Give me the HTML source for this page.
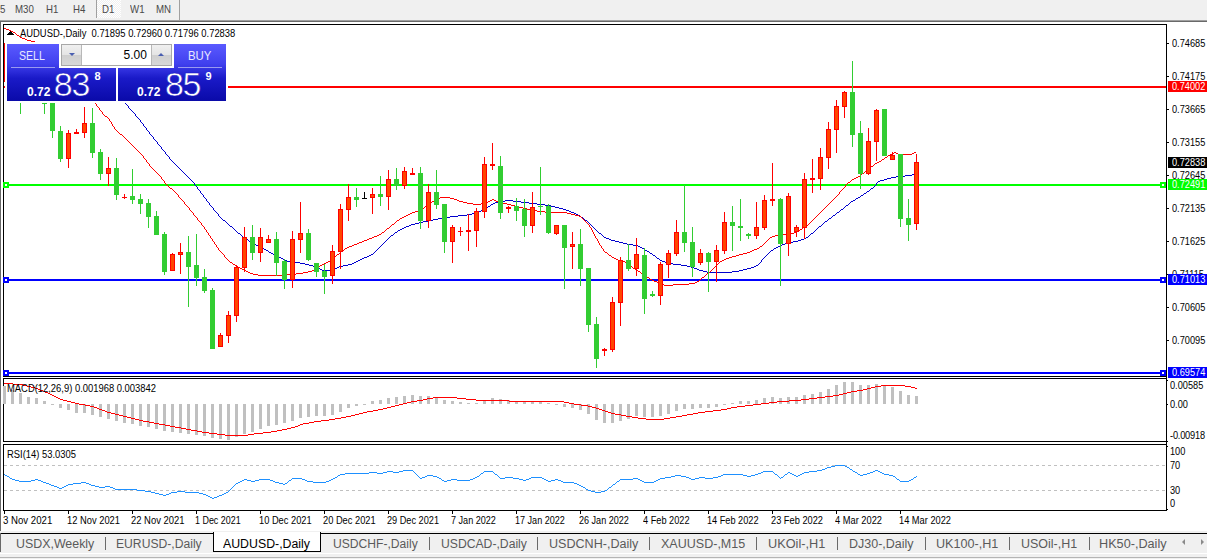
<!DOCTYPE html><html><head><meta charset="utf-8"><title>AUDUSD-,Daily</title><style>
html,body{margin:0;padding:0;background:#fff}
body{width:1207px;height:559px;position:relative;overflow:hidden;font-family:"Liberation Sans",sans-serif}
.a{position:absolute}
.t{position:absolute;white-space:pre;line-height:1;color:#000}
.c{font-size:10px;transform:scaleX(.94);transform-origin:0 0}
.tb{font-size:11px;color:#4a4a4a;top:4px;transform:scaleX(.88);transform-origin:0 0}
.lb{position:absolute;left:1168px;width:39px;height:11px;color:#fff;font-size:10px;line-height:11px}
.lb span{position:absolute;left:4px;top:0.3px;transform:scaleX(.92);transform-origin:0 0}
.ax{position:absolute;left:1172px;font-size:10px;line-height:1;color:#000;white-space:pre;transform:scaleX(.92);transform-origin:0 0}
.tk{position:absolute;left:1167px;width:2px;height:1px;background:#000}
.tab{position:absolute;top:537.8px;font-size:12.3px;line-height:1;color:#5a5a5a;white-space:pre}
.sep{position:absolute;top:537px;width:1px;height:13px;background:#6a6a6a}
.dt{position:absolute;top:515.9px;font-size:10px;line-height:1;white-space:pre;color:#000;transform:scaleX(.985);transform-origin:0 0}
.dtk{position:absolute;top:511px;width:1px;height:3px;background:#000}
</style></head><body>
<div class="a" style="left:0;top:0;width:1207px;height:20px;background:#f0f0f0"></div>
<div class="a" style="left:0;top:20px;width:1207px;height:1px;background:#a0a0a0"></div>
<div class="a" style="left:0;top:21px;width:1207px;height:1px;background:#696969"></div>
<div class="a" style="left:0;top:21px;width:1px;height:511px;background:#696969"></div>
<div class="a" style="left:97px;top:0;width:24px;height:18px;background:conic-gradient(#fff 25%,#f0f0f0 0 50%,#fff 0 75%,#f0f0f0 0) 0 0/2px 2px"></div>
<div class="a" style="left:96px;top:0;width:1px;height:18px;background:#a0a0a0"></div>
<div class="a" style="left:179px;top:0;width:1px;height:20px;background:#a0a0a0"></div>
<div class="t tb" style="left:0px">5</div>
<div class="t tb" style="left:15px">M30</div>
<div class="t tb" style="left:46px">H1</div>
<div class="t tb" style="left:73px">H4</div>
<div class="t tb" style="left:102px">D1</div>
<div class="t tb" style="left:130px">W1</div>
<div class="t tb" style="left:156px">MN</div>
<svg width="1207" height="559" viewBox="0 0 1207 559" shape-rendering="crispEdges" style="position:absolute;left:0;top:0">
<rect x="3" y="24" width="1164" height="1" fill="#000"/><rect x="3" y="376" width="1164" height="1" fill="#000"/><rect x="3" y="24" width="1" height="353" fill="#000"/>
<rect x="3" y="378" width="1164" height="1" fill="#000"/><rect x="3" y="441" width="1164" height="1" fill="#000"/><rect x="3" y="378" width="1" height="64" fill="#000"/>
<rect x="3" y="444" width="1164" height="1" fill="#000"/><rect x="3" y="510" width="1164" height="1" fill="#000"/><rect x="3" y="444" width="1" height="67" fill="#000"/>
<rect x="4" y="86" width="1162" height="2" fill="#FF0000"/>
<rect x="4" y="184" width="1162" height="2" fill="#00FF00"/>
<rect x="3" y="182" width="6" height="6" fill="#00FF00"/><rect x="5" y="184" width="2" height="2" fill="#fff"/>
<rect x="1160" y="182" width="6" height="6" fill="#00FF00"/><rect x="1162" y="184" width="2" height="2" fill="#fff"/>
<rect x="4" y="279" width="1162" height="2" fill="#0000FF"/>
<rect x="3" y="277" width="6" height="6" fill="#0000FF"/><rect x="5" y="279" width="2" height="2" fill="#fff"/>
<rect x="1160" y="277" width="6" height="6" fill="#0000FF"/><rect x="1162" y="279" width="2" height="2" fill="#fff"/>
<rect x="4" y="372" width="1162" height="2" fill="#0000FF"/>
<rect x="3" y="370" width="6" height="6" fill="#0000FF"/><rect x="5" y="372" width="2" height="2" fill="#fff"/>
<rect x="1160" y="370" width="6" height="6" fill="#0000FF"/><rect x="1162" y="372" width="2" height="2" fill="#fff"/>
<path d="M100 75h1v1h-1zM101 76h1v1h-1zM102 77h1v1h-1zM103 78h1v1h-1zM104 79h1v2h-1zM105 81h1v1h-1zM106 82h1v1h-1zM107 83h1v1h-1zM108 84h1v1h-1zM109 85h1v1h-1zM110 86h1v1h-1zM111 87h1v1h-1zM112 88h1v2h-1zM113 90h1v1h-1zM114 91h1v1h-1zM115 92h1v1h-1zM116 93h1v1h-1zM117 94h1v1h-1zM118 95h1v1h-1zM119 96h1v1h-1zM120 97h1v1h-1zM121 98h1v2h-1zM122 100h1v1h-1zM123 101h1v1h-1zM124 102h1v1h-1zM125 103h1v1h-1zM126 104h1v1h-1zM127 105h1v1h-1zM128 106h1v2h-1zM129 108h1v1h-1zM130 109h1v1h-1zM131 110h1v1h-1zM132 111h1v1h-1zM133 112h1v1h-1zM134 113h1v1h-1zM135 114h1v2h-1zM136 116h1v1h-1zM137 117h1v1h-1zM138 118h1v1h-1zM139 119h1v1h-1zM140 120h1v2h-1zM141 122h1v1h-1zM142 123h1v1h-1zM143 124h1v2h-1zM144 126h1v1h-1zM145 127h1v1h-1zM146 128h1v2h-1zM147 130h1v1h-1zM148 131h1v1h-1zM149 132h1v2h-1zM150 134h1v1h-1zM151 135h1v1h-1zM152 136h1v1h-1zM153 137h1v2h-1zM154 139h1v1h-1zM155 140h1v1h-1zM156 141h1v1h-1zM157 142h1v2h-1zM158 144h1v1h-1zM159 145h1v1h-1zM160 146h1v1h-1zM161 147h1v2h-1zM162 149h1v1h-1zM163 150h1v1h-1zM164 151h1v1h-1zM165 152h1v2h-1zM166 154h1v1h-1zM167 155h1v1h-1zM168 156h1v1h-1zM169 157h1v2h-1zM170 159h1v1h-1zM171 160h1v1h-1zM172 161h1v1h-1zM173 162h1v1h-1zM174 163h1v1h-1zM175 164h1v1h-1zM176 165h1v1h-1zM177 166h1v1h-1zM178 167h1v1h-1zM179 168h1v1h-1zM180 169h1v1h-1zM181 170h1v1h-1zM182 171h1v1h-1zM183 172h1v1h-1zM184 173h1v1h-1zM185 174h1v1h-1zM186 175h1v1h-1zM187 176h1v1h-1zM188 177h1v1h-1zM189 178h1v1h-1zM190 179h1v1h-1zM191 180h1v1h-1zM192 181h1v1h-1zM193 182h1v1h-1zM194 183h1v2h-1zM195 185h1v1h-1zM196 186h1v1h-1zM197 187h1v2h-1zM198 189h1v1h-1zM199 190h1v1h-1zM200 191h1v2h-1zM201 193h1v1h-1zM202 194h1v1h-1zM203 195h1v2h-1zM204 197h1v1h-1zM205 198h1v1h-1zM206 199h1v2h-1zM207 201h1v1h-1zM208 202h1v1h-1zM209 203h1v2h-1zM210 205h1v1h-1zM211 206h1v1h-1zM212 207h1v1h-1zM213 208h1v2h-1zM214 210h1v1h-1zM215 211h1v1h-1zM216 212h1v1h-1zM217 213h1v1h-1zM218 214h1v2h-1zM219 216h1v1h-1zM220 217h1v1h-1zM221 218h1v1h-1zM222 219h1v1h-1zM223 220h2v1h-2zM225 221h1v1h-1zM226 222h1v1h-1zM227 223h1v1h-1zM228 224h1v1h-1zM229 225h1v1h-1zM230 226h2v1h-2zM232 227h1v1h-1zM233 228h1v1h-1zM234 229h1v1h-1zM235 230h1v1h-1zM236 231h1v1h-1zM237 232h1v1h-1zM238 233h2v1h-2zM240 234h1v1h-1zM241 235h1v1h-1zM242 236h1v1h-1zM243 237h1v1h-1zM244 238h2v1h-2zM246 239h2v1h-2zM248 240h1v1h-1zM249 241h2v1h-2zM251 242h1v1h-1zM252 243h2v1h-2zM254 244h2v1h-2zM256 245h2v1h-2zM258 246h2v1h-2zM260 247h2v1h-2zM262 248h2v1h-2zM264 249h2v1h-2zM266 250h2v1h-2zM268 251h1v1h-1zM269 252h2v1h-2zM271 253h2v1h-2zM273 254h2v1h-2zM275 255h2v1h-2zM277 256h2v1h-2zM279 257h2v1h-2zM281 258h2v1h-2zM283 259h2v1h-2zM285 260h2v1h-2zM287 261h5v1h-5zM292 262h8v1h-8zM300 263h5v1h-5zM305 264h4v1h-4zM309 265h4v1h-4zM313 266h3v1h-3zM316 267h2v1h-2zM318 268h2v1h-2zM320 269h2v1h-2zM322 270h10v1h-10zM332 269h2v1h-2zM334 268h3v1h-3zM337 267h2v1h-2zM339 266h4v1h-4zM343 265h5v1h-5zM348 264h4v1h-4zM352 263h2v1h-2zM354 262h2v1h-2zM356 261h2v1h-2zM358 260h2v1h-2zM360 259h2v1h-2zM362 258h2v1h-2zM364 257h3v1h-3zM367 256h2v1h-2zM369 255h2v1h-2zM371 254h2v1h-2zM373 253h1v1h-1zM374 252h1v1h-1zM375 251h1v1h-1zM376 250h1v1h-1zM377 249h1v1h-1zM378 248h1v1h-1zM379 247h1v1h-1zM380 246h1v1h-1zM381 245h1v1h-1zM382 244h1v1h-1zM383 243h1v1h-1zM384 242h1v1h-1zM385 241h1v1h-1zM386 240h1v1h-1zM387 239h1v1h-1zM388 238h1v1h-1zM389 237h1v1h-1zM390 236h1v1h-1zM391 235h2v1h-2zM393 234h1v1h-1zM394 233h1v1h-1zM395 232h2v1h-2zM397 231h1v1h-1zM398 230h2v1h-2zM400 229h2v1h-2zM402 228h2v1h-2zM404 227h2v1h-2zM406 226h3v1h-3zM409 225h2v1h-2zM411 224h4v1h-4zM415 223h4v1h-4zM419 222h4v1h-4zM423 221h5v1h-5zM428 220h5v1h-5zM433 219h5v1h-5zM438 218h6v1h-6zM444 217h6v1h-6zM450 216h8v1h-8zM458 215h9v1h-9zM467 214h5v1h-5zM472 213h3v1h-3zM475 212h3v1h-3zM478 211h3v1h-3zM481 210h2v1h-2zM483 209h2v1h-2zM485 208h2v1h-2zM487 207h1v1h-1zM488 206h2v1h-2zM490 205h1v1h-1zM491 204h2v1h-2zM493 203h2v1h-2zM495 202h3v1h-3zM498 201h7v1h-7zM505 200h8v1h-8zM513 201h8v1h-8zM521 202h8v1h-8zM529 203h8v1h-8zM537 204h8v1h-8zM545 205h6v1h-6zM551 206h4v1h-4zM555 207h4v1h-4zM559 208h4v1h-4zM563 209h3v1h-3zM566 210h3v1h-3zM569 211h2v1h-2zM571 212h3v1h-3zM574 213h2v1h-2zM576 214h2v1h-2zM578 215h2v1h-2zM580 216h1v1h-1zM581 217h2v1h-2zM583 218h1v1h-1zM584 219h1v1h-1zM585 220h2v1h-2zM587 221h1v1h-1zM588 222h1v1h-1zM589 223h1v1h-1zM590 224h1v1h-1zM591 225h1v1h-1zM592 226h1v1h-1zM593 227h1v1h-1zM594 228h1v1h-1zM595 229h1v1h-1zM596 230h1v1h-1zM597 231h1v1h-1zM598 232h1v1h-1zM599 233h2v1h-2zM601 234h1v1h-1zM602 235h1v1h-1zM603 236h1v1h-1zM604 237h2v1h-2zM606 238h3v1h-3zM609 239h2v1h-2zM611 240h4v1h-4zM615 241h4v1h-4zM619 242h4v1h-4zM623 243h4v1h-4zM627 244h6v1h-6zM633 245h5v1h-5zM638 246h2v1h-2zM640 247h2v1h-2zM642 248h2v1h-2zM644 249h1v1h-1zM645 250h2v1h-2zM647 251h2v1h-2zM649 252h1v1h-1zM650 253h2v1h-2zM652 254h1v1h-1zM653 255h2v1h-2zM655 256h1v1h-1zM656 257h1v1h-1zM657 258h2v1h-2zM659 259h1v1h-1zM660 260h2v1h-2zM662 261h3v1h-3zM665 262h2v1h-2zM667 263h6v1h-6zM673 264h8v1h-8zM681 265h6v1h-6zM687 266h4v1h-4zM691 267h3v1h-3zM694 268h3v1h-3zM697 269h2v1h-2zM699 270h4v1h-4zM703 271h4v1h-4zM707 272h25v1h-25zM732 271h7v1h-7zM739 270h4v1h-4zM743 269h4v1h-4zM747 268h4v1h-4zM751 267h3v1h-3zM754 266h2v1h-2zM756 265h2v1h-2zM758 264h1v1h-1zM759 263h1v1h-1zM760 262h1v1h-1zM761 260h1v2h-1zM762 259h1v1h-1zM763 258h1v1h-1zM764 257h1v1h-1zM765 256h1v1h-1zM766 255h1v1h-1zM767 254h1v1h-1zM768 253h1v1h-1zM769 252h1v1h-1zM770 251h1v1h-1zM771 250h2v1h-2zM773 249h1v1h-1zM774 248h2v1h-2zM776 247h2v1h-2zM778 246h2v1h-2zM780 245h2v1h-2zM782 244h3v1h-3zM785 243h2v1h-2zM787 242h6v1h-6zM793 241h5v1h-5zM798 240h3v1h-3zM801 239h3v1h-3zM804 238h2v1h-2zM806 237h2v1h-2zM808 236h1v1h-1zM809 235h1v1h-1zM810 234h1v1h-1zM811 233h2v1h-2zM813 232h1v1h-1zM814 231h1v1h-1zM815 230h1v1h-1zM816 229h1v1h-1zM817 228h1v1h-1zM818 227h1v1h-1zM819 226h2v1h-2zM821 225h1v1h-1zM822 224h1v1h-1zM823 223h1v1h-1zM824 222h1v1h-1zM825 221h2v1h-2zM827 220h1v1h-1zM828 219h1v1h-1zM829 218h2v1h-2zM831 217h1v1h-1zM832 216h1v1h-1zM833 215h2v1h-2zM835 214h1v1h-1zM836 213h1v1h-1zM837 212h2v1h-2zM839 211h1v1h-1zM840 210h1v1h-1zM841 209h2v1h-2zM843 208h1v1h-1zM844 207h1v1h-1zM845 206h1v1h-1zM846 205h2v1h-2zM848 204h1v1h-1zM849 203h1v1h-1zM850 202h1v1h-1zM851 201h2v1h-2zM853 200h2v1h-2zM855 199h1v1h-1zM856 198h2v1h-2zM858 197h2v1h-2zM860 196h1v1h-1zM861 195h2v1h-2zM863 194h1v1h-1zM864 193h2v1h-2zM866 192h1v1h-1zM867 191h2v1h-2zM869 190h1v1h-1zM870 189h1v1h-1zM871 188h2v1h-2zM873 187h1v1h-1zM874 186h1v1h-1zM875 185h1v1h-1zM876 183h1v2h-1zM877 182h1v1h-1zM878 181h2v1h-2zM880 180h4v1h-4zM884 179h3v1h-3zM887 178h4v1h-4zM891 177h5v1h-5zM896 176h9v1h-9zM905 175h7v1h-7zM912 174h2v1h-2zM914 173h1v1h-1z" fill="#0000CD"/>
<path d="M4 28h2v1h-2zM6 29h3v1h-3zM9 30h2v1h-2zM11 31h2v1h-2zM13 32h2v1h-2zM15 33h1v1h-1zM16 34h1v1h-1zM17 35h2v1h-2zM19 36h1v1h-1zM20 37h2v1h-2zM22 38h3v1h-3zM25 39h2v1h-2zM27 40h4v1h-4zM31 41h4v1h-4zM60 60h1v1h-1zM61 61h1v1h-1zM62 62h1v2h-1zM63 64h1v1h-1zM64 65h1v1h-1zM65 66h1v1h-1zM66 67h1v1h-1zM67 68h1v2h-1zM68 70h1v1h-1zM69 71h1v1h-1zM70 72h1v1h-1zM71 73h1v2h-1zM72 75h1v1h-1zM73 76h1v1h-1zM74 77h1v1h-1zM75 78h1v2h-1zM76 80h1v1h-1zM77 81h1v1h-1zM78 82h1v1h-1zM79 83h1v1h-1zM80 84h1v2h-1zM81 86h1v1h-1zM82 87h1v1h-1zM83 88h1v1h-1zM84 89h1v2h-1zM85 91h1v1h-1zM86 92h1v1h-1zM87 93h1v1h-1zM88 94h1v2h-1zM89 96h1v1h-1zM90 97h1v1h-1zM91 98h1v1h-1zM92 99h1v1h-1zM93 100h1v2h-1zM94 102h1v1h-1zM95 103h1v1h-1zM96 104h1v2h-1zM97 106h1v1h-1zM98 107h1v1h-1zM99 108h1v2h-1zM100 110h1v1h-1zM101 111h1v1h-1zM102 112h1v2h-1zM103 114h1v1h-1zM104 115h1v1h-1zM105 116h2v1h-2zM107 117h1v1h-1zM108 118h1v1h-1zM109 119h1v2h-1zM110 121h1v1h-1zM111 122h1v2h-1zM112 124h1v2h-1zM113 126h1v1h-1zM114 127h1v2h-1zM115 129h1v1h-1zM116 130h1v1h-1zM117 131h1v1h-1zM118 132h1v1h-1zM119 133h1v1h-1zM120 134h2v1h-2zM122 135h1v1h-1zM123 136h1v1h-1zM124 137h1v1h-1zM125 138h1v1h-1zM126 139h1v1h-1zM127 140h1v1h-1zM128 141h1v1h-1zM129 142h1v1h-1zM130 143h1v1h-1zM131 144h1v1h-1zM132 145h1v1h-1zM133 146h1v1h-1zM134 147h1v1h-1zM135 148h1v1h-1zM136 149h1v1h-1zM137 150h1v1h-1zM138 151h1v1h-1zM139 152h1v1h-1zM140 153h1v1h-1zM141 154h1v1h-1zM142 155h1v1h-1zM143 156h1v2h-1zM144 158h1v1h-1zM145 159h1v1h-1zM146 160h1v2h-1zM147 162h1v1h-1zM148 163h1v1h-1zM149 164h1v2h-1zM150 166h1v1h-1zM151 167h1v1h-1zM152 168h1v1h-1zM153 169h1v1h-1zM154 170h1v1h-1zM155 171h1v1h-1zM156 172h1v1h-1zM157 173h1v1h-1zM158 174h1v1h-1zM159 175h1v1h-1zM160 176h1v1h-1zM161 177h1v2h-1zM162 179h1v1h-1zM163 180h1v1h-1zM164 181h1v2h-1zM165 183h1v1h-1zM166 184h1v1h-1zM167 185h1v1h-1zM168 186h1v1h-1zM169 187h1v1h-1zM170 188h2v1h-2zM172 189h1v1h-1zM173 190h1v1h-1zM174 191h1v1h-1zM175 192h1v1h-1zM176 193h1v1h-1zM177 194h1v1h-1zM178 195h1v2h-1zM179 197h1v1h-1zM180 198h1v1h-1zM181 199h1v1h-1zM182 200h1v1h-1zM183 201h1v1h-1zM184 202h1v2h-1zM185 204h1v1h-1zM186 205h1v1h-1zM187 206h1v1h-1zM188 207h1v1h-1zM189 208h1v2h-1zM190 210h1v1h-1zM191 211h1v1h-1zM192 212h1v1h-1zM193 213h1v2h-1zM194 215h1v1h-1zM195 216h1v1h-1zM196 217h1v1h-1zM197 218h1v2h-1zM198 220h1v1h-1zM199 221h1v1h-1zM200 222h1v1h-1zM201 223h1v2h-1zM202 225h1v1h-1zM203 226h1v1h-1zM204 227h1v2h-1zM205 229h1v1h-1zM206 230h1v2h-1zM207 232h1v1h-1zM208 233h1v2h-1zM209 235h1v1h-1zM210 236h1v2h-1zM211 238h1v1h-1zM212 239h1v2h-1zM213 241h1v1h-1zM214 242h1v2h-1zM215 244h1v1h-1zM216 245h1v2h-1zM217 247h1v1h-1zM218 248h1v2h-1zM219 250h1v1h-1zM220 251h1v1h-1zM221 252h1v1h-1zM222 253h1v1h-1zM223 254h1v1h-1zM224 255h1v2h-1zM225 257h1v1h-1zM226 258h1v1h-1zM227 259h1v1h-1zM228 260h1v1h-1zM229 261h1v1h-1zM230 262h2v1h-2zM232 263h1v1h-1zM233 264h2v1h-2zM235 265h1v1h-1zM236 266h2v1h-2zM238 267h2v1h-2zM240 268h2v1h-2zM242 269h2v1h-2zM244 270h2v1h-2zM246 271h2v1h-2zM248 272h2v1h-2zM250 273h3v1h-3zM253 274h5v1h-5zM258 275h28v1h-28zM286 274h10v1h-10zM296 273h7v1h-7zM303 272h5v1h-5zM308 271h4v1h-4zM312 270h3v1h-3zM315 269h1v1h-1zM316 268h2v1h-2zM318 267h1v1h-1zM319 266h1v1h-1zM320 265h2v1h-2zM322 264h2v1h-2zM324 263h2v1h-2zM326 262h2v1h-2zM328 261h2v1h-2zM330 260h1v1h-1zM331 259h1v1h-1zM332 258h2v1h-2zM334 257h1v1h-1zM335 256h1v1h-1zM336 255h1v1h-1zM337 254h2v1h-2zM339 253h1v1h-1zM340 252h1v1h-1zM341 251h1v1h-1zM342 250h2v1h-2zM344 249h1v1h-1zM345 248h2v1h-2zM347 247h2v1h-2zM349 246h3v1h-3zM352 245h2v1h-2zM354 244h3v1h-3zM357 243h2v1h-2zM359 242h3v1h-3zM362 241h2v1h-2zM364 240h3v1h-3zM367 239h2v1h-2zM369 238h3v1h-3zM372 237h2v1h-2zM374 236h3v1h-3zM377 235h2v1h-2zM379 234h2v1h-2zM381 233h1v1h-1zM382 232h2v1h-2zM384 231h1v1h-1zM385 230h1v1h-1zM386 229h1v1h-1zM387 228h2v1h-2zM389 227h1v1h-1zM390 226h1v1h-1zM391 225h1v1h-1zM392 224h2v1h-2zM394 223h1v1h-1zM395 222h1v1h-1zM396 221h1v1h-1zM397 220h2v1h-2zM399 219h1v1h-1zM400 218h2v1h-2zM402 217h2v1h-2zM404 216h2v1h-2zM406 215h2v1h-2zM408 214h2v1h-2zM410 213h2v1h-2zM412 212h3v1h-3zM415 211h4v1h-4zM419 210h2v1h-2zM421 209h1v1h-1zM422 208h2v1h-2zM424 207h1v1h-1zM425 206h1v1h-1zM426 205h1v1h-1zM427 204h2v1h-2zM429 203h1v1h-1zM430 202h2v1h-2zM432 201h2v1h-2zM434 200h2v1h-2zM436 199h2v1h-2zM438 198h2v1h-2zM440 197h10v1h-10zM450 198h4v1h-4zM454 199h3v1h-3zM457 200h2v1h-2zM459 201h4v1h-4zM463 202h4v1h-4zM467 203h6v1h-6zM473 204h8v1h-8zM481 203h5v1h-5zM486 202h2v1h-2zM488 201h2v1h-2zM490 200h2v1h-2zM492 199h2v1h-2zM494 200h2v1h-2zM496 201h3v1h-3zM499 202h4v1h-4zM503 203h4v1h-4zM507 204h4v1h-4zM511 205h4v1h-4zM515 206h4v1h-4zM519 207h4v1h-4zM523 208h4v1h-4zM527 209h4v1h-4zM531 210h6v1h-6zM537 211h8v1h-8zM545 212h22v1h-22zM567 213h4v1h-4zM571 214h4v1h-4zM575 215h4v1h-4zM579 216h2v1h-2zM581 217h1v1h-1zM582 218h1v1h-1zM583 219h1v1h-1zM584 220h1v1h-1zM585 221h1v1h-1zM586 222h1v1h-1zM587 223h1v1h-1zM588 224h1v1h-1zM589 225h1v2h-1zM590 227h1v1h-1zM591 228h1v2h-1zM592 230h1v2h-1zM593 232h1v2h-1zM594 234h1v2h-1zM595 236h1v2h-1zM596 238h1v1h-1zM597 239h1v2h-1zM598 241h1v2h-1zM599 243h1v2h-1zM600 245h1v1h-1zM601 246h1v2h-1zM602 248h1v1h-1zM603 249h1v2h-1zM604 251h1v1h-1zM605 252h2v1h-2zM607 253h1v1h-1zM608 254h1v1h-1zM609 255h2v1h-2zM611 256h1v1h-1zM612 257h2v1h-2zM614 258h2v1h-2zM616 259h2v1h-2zM618 260h4v1h-4zM622 261h3v1h-3zM625 262h2v1h-2zM627 263h1v1h-1zM628 264h1v1h-1zM629 265h2v1h-2zM631 266h1v1h-1zM632 267h1v1h-1zM633 268h2v1h-2zM635 269h2v1h-2zM637 270h1v1h-1zM638 271h2v1h-2zM640 272h1v1h-1zM641 273h2v1h-2zM643 274h1v1h-1zM644 275h2v1h-2zM646 276h1v1h-1zM647 277h2v1h-2zM649 278h1v1h-1zM650 279h2v1h-2zM652 280h2v1h-2zM654 281h3v1h-3zM657 282h3v1h-3zM660 283h2v1h-2zM662 284h2v1h-2zM664 285h9v1h-9zM673 284h16v1h-16zM689 283h6v1h-6zM695 282h2v1h-2zM697 281h2v1h-2zM699 280h1v1h-1zM700 279h1v1h-1zM701 278h1v1h-1zM702 277h2v1h-2zM704 276h1v1h-1zM705 275h1v1h-1zM706 274h1v1h-1zM707 273h1v1h-1zM708 272h2v1h-2zM710 271h1v1h-1zM711 270h1v1h-1zM712 269h1v1h-1zM713 268h1v1h-1zM714 267h1v1h-1zM715 266h1v1h-1zM716 265h1v1h-1zM717 264h1v1h-1zM718 263h1v1h-1zM719 262h1v1h-1zM720 261h2v1h-2zM722 260h2v1h-2zM724 259h2v1h-2zM726 258h3v1h-3zM729 257h3v1h-3zM732 256h4v1h-4zM736 255h3v1h-3zM739 254h4v1h-4zM743 253h4v1h-4zM747 252h3v1h-3zM750 251h2v1h-2zM752 250h2v1h-2zM754 249h3v1h-3zM757 248h2v1h-2zM759 247h1v1h-1zM760 246h2v1h-2zM762 245h1v1h-1zM763 244h1v1h-1zM764 243h1v1h-1zM765 242h1v1h-1zM766 241h1v1h-1zM767 240h1v1h-1zM768 239h1v1h-1zM769 238h1v1h-1zM770 237h2v1h-2zM772 236h3v1h-3zM775 235h6v1h-6zM781 234h8v1h-8zM789 233h5v1h-5zM794 232h2v1h-2zM796 231h2v1h-2zM798 230h2v1h-2zM800 229h2v1h-2zM802 228h1v1h-1zM803 227h2v1h-2zM805 226h1v1h-1zM806 225h2v1h-2zM808 224h1v1h-1zM809 223h1v1h-1zM810 222h1v1h-1zM811 221h1v1h-1zM812 220h1v1h-1zM813 219h1v1h-1zM814 218h1v1h-1zM815 217h1v1h-1zM816 216h1v1h-1zM817 215h1v1h-1zM818 214h1v1h-1zM819 213h1v1h-1zM820 212h1v1h-1zM821 211h1v1h-1zM822 210h1v1h-1zM823 209h1v1h-1zM824 208h1v1h-1zM825 207h1v1h-1zM826 206h1v1h-1zM827 205h1v1h-1zM828 204h1v1h-1zM829 203h1v1h-1zM830 202h1v1h-1zM831 201h1v1h-1zM832 200h1v1h-1zM833 199h1v1h-1zM834 198h1v1h-1zM835 197h1v1h-1zM836 196h1v1h-1zM837 195h1v1h-1zM838 194h1v1h-1zM839 192h1v2h-1zM840 191h1v1h-1zM841 190h1v1h-1zM842 189h1v1h-1zM843 188h1v1h-1zM844 187h1v1h-1zM845 185h1v2h-1zM846 184h1v1h-1zM847 183h1v1h-1zM848 182h2v1h-2zM850 181h1v1h-1zM851 180h1v1h-1zM852 179h2v1h-2zM854 178h2v1h-2zM856 177h2v1h-2zM858 176h2v1h-2zM860 175h1v1h-1zM861 174h1v1h-1zM862 173h2v1h-2zM864 172h1v1h-1zM865 171h1v1h-1zM866 170h1v1h-1zM867 169h2v1h-2zM869 168h1v1h-1zM870 167h1v1h-1zM871 166h2v1h-2zM873 165h1v1h-1zM874 164h1v1h-1zM875 163h2v1h-2zM877 162h2v1h-2zM879 161h2v1h-2zM881 160h1v1h-1zM882 159h2v1h-2zM884 158h1v1h-1zM885 157h2v1h-2zM887 156h1v1h-1zM888 155h2v1h-2zM890 154h2v1h-2zM892 153h2v1h-2zM894 152h2v1h-2zM896 153h2v1h-2zM898 154h14v1h-14zM912 153h2v1h-2zM914 152h2v1h-2z" fill="#FF0000"/>
<rect x="4" y="43" width="1" height="39" fill="#FF0000"/>
<rect x="20" y="90" width="1" height="24" fill="#32CD32"/>
<rect x="18" y="90" width="5" height="10" fill="#32CD32"/>
<rect x="44" y="90" width="1" height="24" fill="#32CD32"/>
<rect x="42" y="90" width="5" height="14" fill="#32CD32"/>
<rect x="52" y="90" width="1" height="48" fill="#32CD32"/>
<rect x="50" y="90" width="5" height="41" fill="#32CD32"/>
<rect x="60" y="126" width="1" height="36" fill="#32CD32"/>
<rect x="58" y="131" width="5" height="28" fill="#32CD32"/>
<rect x="68" y="130" width="1" height="38" fill="#FF0000"/>
<rect x="66" y="133" width="5" height="26" fill="#FF0000"/><rect x="67" y="134" width="3" height="24" fill="#FF4500"/>
<rect x="76" y="129" width="1" height="5" fill="#FF0000"/>
<rect x="74" y="132" width="5" height="2" fill="#FF0000"/>
<rect x="84" y="107" width="1" height="31" fill="#FF0000"/>
<rect x="82" y="123" width="5" height="10" fill="#FF0000"/><rect x="83" y="124" width="3" height="8" fill="#FF4500"/>
<rect x="92" y="108" width="1" height="50" fill="#32CD32"/>
<rect x="90" y="123" width="5" height="30" fill="#32CD32"/>
<rect x="100" y="149" width="1" height="31" fill="#32CD32"/>
<rect x="98" y="152" width="5" height="22" fill="#32CD32"/>
<rect x="108" y="157" width="1" height="29" fill="#FF0000"/>
<rect x="106" y="168" width="5" height="6" fill="#FF0000"/><rect x="107" y="169" width="3" height="4" fill="#FF4500"/>
<rect x="116" y="158" width="1" height="42" fill="#32CD32"/>
<rect x="114" y="168" width="5" height="27" fill="#32CD32"/>
<rect x="124" y="194" width="1" height="5" fill="#FF0000"/>
<rect x="122" y="197" width="5" height="1" fill="#FF0000"/>
<rect x="132" y="169" width="1" height="35" fill="#32CD32"/>
<rect x="130" y="196" width="5" height="4" fill="#32CD32"/>
<rect x="140" y="194" width="1" height="20" fill="#32CD32"/>
<rect x="138" y="199" width="5" height="5" fill="#32CD32"/>
<rect x="148" y="199" width="1" height="29" fill="#32CD32"/>
<rect x="146" y="203" width="5" height="14" fill="#32CD32"/>
<rect x="156" y="211" width="1" height="24" fill="#32CD32"/>
<rect x="154" y="216" width="5" height="19" fill="#32CD32"/>
<rect x="164" y="232" width="1" height="43" fill="#32CD32"/>
<rect x="162" y="234" width="5" height="38" fill="#32CD32"/>
<rect x="172" y="253" width="1" height="18" fill="#FF0000"/>
<rect x="170" y="254" width="5" height="17" fill="#FF0000"/><rect x="171" y="255" width="3" height="15" fill="#FF4500"/>
<rect x="180" y="243" width="1" height="31" fill="#FF0000"/>
<rect x="178" y="252" width="5" height="3" fill="#FF0000"/><rect x="179" y="253" width="3" height="1" fill="#FF4500"/>
<rect x="188" y="236" width="1" height="71" fill="#32CD32"/>
<rect x="186" y="252" width="5" height="15" fill="#32CD32"/>
<rect x="196" y="234" width="1" height="52" fill="#32CD32"/>
<rect x="194" y="265" width="5" height="13" fill="#32CD32"/>
<rect x="204" y="269" width="1" height="24" fill="#32CD32"/>
<rect x="202" y="277" width="5" height="14" fill="#32CD32"/>
<rect x="212" y="288" width="1" height="61" fill="#32CD32"/>
<rect x="210" y="290" width="5" height="59" fill="#32CD32"/>
<rect x="220" y="333" width="1" height="14" fill="#FF0000"/>
<rect x="218" y="335" width="5" height="12" fill="#FF0000"/><rect x="219" y="336" width="3" height="10" fill="#FF4500"/>
<rect x="228" y="311" width="1" height="32" fill="#FF0000"/>
<rect x="226" y="315" width="5" height="21" fill="#FF0000"/><rect x="227" y="316" width="3" height="19" fill="#FF4500"/>
<rect x="236" y="265" width="1" height="57" fill="#FF0000"/>
<rect x="234" y="267" width="5" height="49" fill="#FF0000"/><rect x="235" y="268" width="3" height="47" fill="#FF4500"/>
<rect x="244" y="227" width="1" height="45" fill="#FF0000"/>
<rect x="242" y="237" width="5" height="31" fill="#FF0000"/><rect x="243" y="238" width="3" height="29" fill="#FF4500"/>
<rect x="252" y="225" width="1" height="35" fill="#32CD32"/>
<rect x="250" y="237" width="5" height="16" fill="#32CD32"/>
<rect x="260" y="228" width="1" height="34" fill="#FF0000"/>
<rect x="258" y="237" width="5" height="16" fill="#FF0000"/><rect x="259" y="238" width="3" height="14" fill="#FF4500"/>
<rect x="268" y="235" width="1" height="8" fill="#FF0000"/>
<rect x="266" y="239" width="5" height="4" fill="#FF0000"/><rect x="267" y="240" width="3" height="2" fill="#FF4500"/>
<rect x="276" y="232" width="1" height="44" fill="#32CD32"/>
<rect x="274" y="239" width="5" height="24" fill="#32CD32"/>
<rect x="284" y="259" width="1" height="30" fill="#32CD32"/>
<rect x="282" y="261" width="5" height="19" fill="#32CD32"/>
<rect x="292" y="231" width="1" height="57" fill="#FF0000"/>
<rect x="290" y="239" width="5" height="41" fill="#FF0000"/><rect x="291" y="240" width="3" height="39" fill="#FF4500"/>
<rect x="300" y="202" width="1" height="51" fill="#FF0000"/>
<rect x="298" y="233" width="5" height="7" fill="#FF0000"/><rect x="299" y="234" width="3" height="5" fill="#FF4500"/>
<rect x="308" y="229" width="1" height="32" fill="#32CD32"/>
<rect x="306" y="233" width="5" height="27" fill="#32CD32"/>
<rect x="316" y="263" width="1" height="14" fill="#32CD32"/>
<rect x="314" y="263" width="5" height="9" fill="#32CD32"/>
<rect x="324" y="264" width="1" height="30" fill="#32CD32"/>
<rect x="322" y="271" width="5" height="6" fill="#32CD32"/>
<rect x="332" y="245" width="1" height="39" fill="#FF0000"/>
<rect x="330" y="251" width="5" height="25" fill="#FF0000"/><rect x="331" y="252" width="3" height="23" fill="#FF4500"/>
<rect x="340" y="204" width="1" height="65" fill="#FF0000"/>
<rect x="338" y="209" width="5" height="43" fill="#FF0000"/><rect x="339" y="210" width="3" height="41" fill="#FF4500"/>
<rect x="348" y="184" width="1" height="37" fill="#FF0000"/>
<rect x="346" y="197" width="5" height="13" fill="#FF0000"/><rect x="347" y="198" width="3" height="11" fill="#FF4500"/>
<rect x="356" y="188" width="1" height="19" fill="#32CD32"/>
<rect x="354" y="197" width="5" height="3" fill="#32CD32"/>
<rect x="364" y="192" width="1" height="7" fill="#000"/>
<rect x="362" y="198" width="5" height="1" fill="#000"/>
<rect x="372" y="188" width="1" height="26" fill="#FF0000"/>
<rect x="370" y="194" width="5" height="4" fill="#FF0000"/><rect x="371" y="195" width="3" height="2" fill="#FF4500"/>
<rect x="380" y="176" width="1" height="30" fill="#32CD32"/>
<rect x="378" y="194" width="5" height="3" fill="#32CD32"/>
<rect x="388" y="170" width="1" height="40" fill="#FF0000"/>
<rect x="386" y="179" width="5" height="18" fill="#FF0000"/><rect x="387" y="180" width="3" height="16" fill="#FF4500"/>
<rect x="396" y="168" width="1" height="22" fill="#32CD32"/>
<rect x="394" y="179" width="5" height="7" fill="#32CD32"/>
<rect x="404" y="167" width="1" height="22" fill="#FF0000"/>
<rect x="402" y="171" width="5" height="15" fill="#FF0000"/><rect x="403" y="172" width="3" height="13" fill="#FF4500"/>
<rect x="412" y="168" width="1" height="7" fill="#FF0000"/>
<rect x="410" y="173" width="5" height="2" fill="#FF0000"/>
<rect x="420" y="167" width="1" height="62" fill="#32CD32"/>
<rect x="418" y="173" width="5" height="48" fill="#32CD32"/>
<rect x="428" y="184" width="1" height="44" fill="#FF0000"/>
<rect x="426" y="192" width="5" height="29" fill="#FF0000"/><rect x="427" y="193" width="3" height="27" fill="#FF4500"/>
<rect x="436" y="170" width="1" height="39" fill="#32CD32"/>
<rect x="434" y="192" width="5" height="13" fill="#32CD32"/>
<rect x="444" y="204" width="1" height="49" fill="#32CD32"/>
<rect x="442" y="204" width="5" height="38" fill="#32CD32"/>
<rect x="452" y="225" width="1" height="38" fill="#FF0000"/>
<rect x="450" y="227" width="5" height="15" fill="#FF0000"/><rect x="451" y="228" width="3" height="13" fill="#FF4500"/>
<rect x="460" y="227" width="1" height="9" fill="#FF0000"/>
<rect x="458" y="231" width="5" height="1" fill="#FF0000"/>
<rect x="468" y="214" width="1" height="37" fill="#FF0000"/>
<rect x="466" y="230" width="5" height="2" fill="#FF0000"/>
<rect x="476" y="208" width="1" height="39" fill="#FF0000"/>
<rect x="474" y="211" width="5" height="20" fill="#FF0000"/><rect x="475" y="212" width="3" height="18" fill="#FF4500"/>
<rect x="484" y="157" width="1" height="61" fill="#FF0000"/>
<rect x="482" y="164" width="5" height="48" fill="#FF0000"/><rect x="483" y="165" width="3" height="46" fill="#FF4500"/>
<rect x="492" y="143" width="1" height="27" fill="#FF0000"/>
<rect x="490" y="164" width="5" height="2" fill="#FF0000"/>
<rect x="500" y="156" width="1" height="63" fill="#32CD32"/>
<rect x="498" y="166" width="5" height="47" fill="#32CD32"/>
<rect x="508" y="206" width="1" height="7" fill="#FF0000"/>
<rect x="506" y="207" width="5" height="2" fill="#FF0000"/>
<rect x="516" y="198" width="1" height="23" fill="#32CD32"/>
<rect x="514" y="206" width="5" height="5" fill="#32CD32"/>
<rect x="524" y="199" width="1" height="38" fill="#32CD32"/>
<rect x="522" y="209" width="5" height="17" fill="#32CD32"/>
<rect x="532" y="192" width="1" height="41" fill="#FF0000"/>
<rect x="530" y="207" width="5" height="19" fill="#FF0000"/><rect x="531" y="208" width="3" height="17" fill="#FF4500"/>
<rect x="540" y="167" width="1" height="48" fill="#32CD32"/>
<rect x="538" y="206" width="5" height="1" fill="#32CD32"/>
<rect x="548" y="204" width="1" height="30" fill="#32CD32"/>
<rect x="546" y="206" width="5" height="27" fill="#32CD32"/>
<rect x="556" y="225" width="1" height="10" fill="#FF0000"/>
<rect x="554" y="225" width="5" height="9" fill="#FF0000"/><rect x="555" y="226" width="3" height="7" fill="#FF4500"/>
<rect x="564" y="225" width="1" height="64" fill="#32CD32"/>
<rect x="562" y="225" width="5" height="23" fill="#32CD32"/>
<rect x="572" y="232" width="1" height="37" fill="#FF0000"/>
<rect x="570" y="244" width="5" height="3" fill="#FF0000"/><rect x="571" y="245" width="3" height="1" fill="#FF4500"/>
<rect x="580" y="229" width="1" height="57" fill="#32CD32"/>
<rect x="578" y="244" width="5" height="25" fill="#32CD32"/>
<rect x="588" y="268" width="1" height="64" fill="#32CD32"/>
<rect x="586" y="268" width="5" height="57" fill="#32CD32"/>
<rect x="596" y="317" width="1" height="51" fill="#32CD32"/>
<rect x="594" y="324" width="5" height="35" fill="#32CD32"/>
<rect x="604" y="348" width="1" height="8" fill="#FF0000"/>
<rect x="602" y="349" width="5" height="2" fill="#FF0000"/>
<rect x="612" y="297" width="1" height="55" fill="#FF0000"/>
<rect x="610" y="302" width="5" height="48" fill="#FF0000"/><rect x="611" y="303" width="3" height="46" fill="#FF4500"/>
<rect x="620" y="257" width="1" height="69" fill="#FF0000"/>
<rect x="618" y="260" width="5" height="43" fill="#FF0000"/><rect x="619" y="261" width="3" height="41" fill="#FF4500"/>
<rect x="628" y="244" width="1" height="27" fill="#32CD32"/>
<rect x="626" y="260" width="5" height="9" fill="#32CD32"/>
<rect x="636" y="238" width="1" height="38" fill="#FF0000"/>
<rect x="634" y="254" width="5" height="15" fill="#FF0000"/><rect x="635" y="255" width="3" height="13" fill="#FF4500"/>
<rect x="644" y="248" width="1" height="66" fill="#32CD32"/>
<rect x="642" y="255" width="5" height="44" fill="#32CD32"/>
<rect x="652" y="291" width="1" height="6" fill="#32CD32"/>
<rect x="650" y="294" width="5" height="2" fill="#32CD32"/>
<rect x="660" y="262" width="1" height="43" fill="#FF0000"/>
<rect x="658" y="264" width="5" height="32" fill="#FF0000"/><rect x="659" y="265" width="3" height="30" fill="#FF4500"/>
<rect x="668" y="250" width="1" height="28" fill="#FF0000"/>
<rect x="666" y="253" width="5" height="12" fill="#FF0000"/><rect x="667" y="254" width="3" height="10" fill="#FF4500"/>
<rect x="676" y="220" width="1" height="36" fill="#FF0000"/>
<rect x="674" y="232" width="5" height="22" fill="#FF0000"/><rect x="675" y="233" width="3" height="20" fill="#FF4500"/>
<rect x="684" y="185" width="1" height="67" fill="#32CD32"/>
<rect x="682" y="232" width="5" height="11" fill="#32CD32"/>
<rect x="692" y="227" width="1" height="50" fill="#32CD32"/>
<rect x="690" y="242" width="5" height="25" fill="#32CD32"/>
<rect x="700" y="249" width="1" height="16" fill="#FF0000"/>
<rect x="698" y="253" width="5" height="10" fill="#FF0000"/><rect x="699" y="254" width="3" height="8" fill="#FF4500"/>
<rect x="708" y="252" width="1" height="40" fill="#32CD32"/>
<rect x="706" y="253" width="5" height="9" fill="#32CD32"/>
<rect x="716" y="245" width="1" height="37" fill="#FF0000"/>
<rect x="714" y="250" width="5" height="12" fill="#FF0000"/><rect x="715" y="251" width="3" height="10" fill="#FF4500"/>
<rect x="724" y="212" width="1" height="42" fill="#FF0000"/>
<rect x="722" y="222" width="5" height="29" fill="#FF0000"/><rect x="723" y="223" width="3" height="27" fill="#FF4500"/>
<rect x="732" y="206" width="1" height="45" fill="#32CD32"/>
<rect x="730" y="222" width="5" height="4" fill="#32CD32"/>
<rect x="740" y="199" width="1" height="42" fill="#32CD32"/>
<rect x="738" y="226" width="5" height="2" fill="#32CD32"/>
<rect x="748" y="233" width="1" height="6" fill="#32CD32"/>
<rect x="746" y="234" width="5" height="2" fill="#32CD32"/>
<rect x="756" y="202" width="1" height="37" fill="#FF0000"/>
<rect x="754" y="227" width="5" height="9" fill="#FF0000"/><rect x="755" y="228" width="3" height="7" fill="#FF4500"/>
<rect x="764" y="195" width="1" height="35" fill="#FF0000"/>
<rect x="762" y="200" width="5" height="28" fill="#FF0000"/><rect x="763" y="201" width="3" height="26" fill="#FF4500"/>
<rect x="772" y="163" width="1" height="43" fill="#FF0000"/>
<rect x="770" y="199" width="5" height="2" fill="#FF0000"/>
<rect x="780" y="198" width="1" height="88" fill="#32CD32"/>
<rect x="778" y="199" width="5" height="45" fill="#32CD32"/>
<rect x="788" y="193" width="1" height="63" fill="#FF0000"/>
<rect x="786" y="196" width="5" height="48" fill="#FF0000"/><rect x="787" y="197" width="3" height="46" fill="#FF4500"/>
<rect x="796" y="225" width="1" height="12" fill="#FF0000"/>
<rect x="794" y="227" width="5" height="5" fill="#FF0000"/><rect x="795" y="228" width="3" height="3" fill="#FF4500"/>
<rect x="804" y="173" width="1" height="66" fill="#FF0000"/>
<rect x="802" y="179" width="5" height="49" fill="#FF0000"/><rect x="803" y="180" width="3" height="47" fill="#FF4500"/>
<rect x="812" y="159" width="1" height="34" fill="#FF0000"/>
<rect x="810" y="178" width="5" height="2" fill="#FF0000"/>
<rect x="820" y="148" width="1" height="42" fill="#FF0000"/>
<rect x="818" y="157" width="5" height="22" fill="#FF0000"/><rect x="819" y="158" width="3" height="20" fill="#FF4500"/>
<rect x="828" y="122" width="1" height="47" fill="#FF0000"/>
<rect x="826" y="129" width="5" height="29" fill="#FF0000"/><rect x="827" y="130" width="3" height="27" fill="#FF4500"/>
<rect x="836" y="100" width="1" height="53" fill="#FF0000"/>
<rect x="834" y="106" width="5" height="24" fill="#FF0000"/><rect x="835" y="107" width="3" height="22" fill="#FF4500"/>
<rect x="844" y="91" width="1" height="27" fill="#FF0000"/>
<rect x="842" y="92" width="5" height="15" fill="#FF0000"/><rect x="843" y="93" width="3" height="13" fill="#FF4500"/>
<rect x="852" y="61" width="1" height="86" fill="#32CD32"/>
<rect x="850" y="92" width="5" height="43" fill="#32CD32"/>
<rect x="860" y="121" width="1" height="68" fill="#32CD32"/>
<rect x="858" y="133" width="5" height="41" fill="#32CD32"/>
<rect x="868" y="128" width="1" height="47" fill="#FF0000"/>
<rect x="866" y="141" width="5" height="33" fill="#FF0000"/><rect x="867" y="142" width="3" height="31" fill="#FF4500"/>
<rect x="876" y="109" width="1" height="52" fill="#FF0000"/>
<rect x="874" y="110" width="5" height="32" fill="#FF0000"/><rect x="875" y="111" width="3" height="30" fill="#FF4500"/>
<rect x="884" y="109" width="1" height="47" fill="#32CD32"/>
<rect x="882" y="109" width="5" height="47" fill="#32CD32"/>
<rect x="892" y="152" width="1" height="8" fill="#FF0000"/>
<rect x="890" y="155" width="5" height="5" fill="#FF0000"/><rect x="891" y="156" width="3" height="3" fill="#FF4500"/>
<rect x="900" y="154" width="1" height="73" fill="#32CD32"/>
<rect x="898" y="154" width="5" height="65" fill="#32CD32"/>
<rect x="908" y="199" width="1" height="42" fill="#32CD32"/>
<rect x="906" y="218" width="5" height="7" fill="#32CD32"/>
<rect x="916" y="154" width="1" height="76" fill="#FF0000"/>
<rect x="914" y="162" width="5" height="62" fill="#FF0000"/><rect x="915" y="163" width="3" height="60" fill="#FF4500"/>
<rect x="3" y="386" width="3" height="18" fill="#C0C0C0"/>
<rect x="11" y="390" width="3" height="14" fill="#C0C0C0"/>
<rect x="19" y="393" width="3" height="11" fill="#C0C0C0"/>
<rect x="27" y="397" width="3" height="7" fill="#C0C0C0"/>
<rect x="35" y="398" width="3" height="6" fill="#C0C0C0"/>
<rect x="43" y="401" width="3" height="3" fill="#C0C0C0"/>
<rect x="51" y="404" width="3" height="1" fill="#C0C0C0"/>
<rect x="59" y="404" width="3" height="4" fill="#C0C0C0"/>
<rect x="67" y="404" width="3" height="6" fill="#C0C0C0"/>
<rect x="75" y="404" width="3" height="9" fill="#C0C0C0"/>
<rect x="83" y="404" width="3" height="9" fill="#C0C0C0"/>
<rect x="91" y="404" width="3" height="11" fill="#C0C0C0"/>
<rect x="99" y="404" width="3" height="13" fill="#C0C0C0"/>
<rect x="107" y="404" width="3" height="15" fill="#C0C0C0"/>
<rect x="115" y="404" width="3" height="17" fill="#C0C0C0"/>
<rect x="123" y="404" width="3" height="19" fill="#C0C0C0"/>
<rect x="131" y="404" width="3" height="20" fill="#C0C0C0"/>
<rect x="139" y="404" width="3" height="22" fill="#C0C0C0"/>
<rect x="147" y="404" width="3" height="23" fill="#C0C0C0"/>
<rect x="155" y="404" width="3" height="25" fill="#C0C0C0"/>
<rect x="163" y="404" width="3" height="27" fill="#C0C0C0"/>
<rect x="171" y="404" width="3" height="28" fill="#C0C0C0"/>
<rect x="179" y="404" width="3" height="29" fill="#C0C0C0"/>
<rect x="187" y="404" width="3" height="30" fill="#C0C0C0"/>
<rect x="195" y="404" width="3" height="31" fill="#C0C0C0"/>
<rect x="203" y="404" width="3" height="32" fill="#C0C0C0"/>
<rect x="211" y="404" width="3" height="34" fill="#C0C0C0"/>
<rect x="219" y="404" width="3" height="35" fill="#C0C0C0"/>
<rect x="227" y="404" width="3" height="36" fill="#C0C0C0"/>
<rect x="235" y="404" width="3" height="33" fill="#C0C0C0"/>
<rect x="243" y="404" width="3" height="30" fill="#C0C0C0"/>
<rect x="251" y="404" width="3" height="28" fill="#C0C0C0"/>
<rect x="259" y="404" width="3" height="25" fill="#C0C0C0"/>
<rect x="267" y="404" width="3" height="22" fill="#C0C0C0"/>
<rect x="275" y="404" width="3" height="21" fill="#C0C0C0"/>
<rect x="283" y="404" width="3" height="19" fill="#C0C0C0"/>
<rect x="291" y="404" width="3" height="17" fill="#C0C0C0"/>
<rect x="299" y="404" width="3" height="14" fill="#C0C0C0"/>
<rect x="307" y="404" width="3" height="13" fill="#C0C0C0"/>
<rect x="315" y="404" width="3" height="12" fill="#C0C0C0"/>
<rect x="323" y="404" width="3" height="12" fill="#C0C0C0"/>
<rect x="331" y="404" width="3" height="11" fill="#C0C0C0"/>
<rect x="339" y="404" width="3" height="8" fill="#C0C0C0"/>
<rect x="347" y="404" width="3" height="4" fill="#C0C0C0"/>
<rect x="355" y="404" width="3" height="2" fill="#C0C0C0"/>
<rect x="363" y="404" width="3" height="1" fill="#C0C0C0"/>
<rect x="371" y="401" width="3" height="3" fill="#C0C0C0"/>
<rect x="379" y="400" width="3" height="4" fill="#C0C0C0"/>
<rect x="387" y="398" width="3" height="6" fill="#C0C0C0"/>
<rect x="395" y="397" width="3" height="7" fill="#C0C0C0"/>
<rect x="403" y="396" width="3" height="8" fill="#C0C0C0"/>
<rect x="411" y="395" width="3" height="9" fill="#C0C0C0"/>
<rect x="419" y="396" width="3" height="8" fill="#C0C0C0"/>
<rect x="427" y="396" width="3" height="8" fill="#C0C0C0"/>
<rect x="435" y="398" width="3" height="6" fill="#C0C0C0"/>
<rect x="443" y="400" width="3" height="4" fill="#C0C0C0"/>
<rect x="451" y="401" width="3" height="3" fill="#C0C0C0"/>
<rect x="459" y="402" width="3" height="2" fill="#C0C0C0"/>
<rect x="467" y="403" width="3" height="1" fill="#C0C0C0"/>
<rect x="475" y="403" width="3" height="1" fill="#C0C0C0"/>
<rect x="483" y="400" width="3" height="4" fill="#C0C0C0"/>
<rect x="491" y="398" width="3" height="6" fill="#C0C0C0"/>
<rect x="499" y="399" width="3" height="5" fill="#C0C0C0"/>
<rect x="507" y="400" width="3" height="4" fill="#C0C0C0"/>
<rect x="515" y="401" width="3" height="3" fill="#C0C0C0"/>
<rect x="523" y="401" width="3" height="3" fill="#C0C0C0"/>
<rect x="531" y="401" width="3" height="3" fill="#C0C0C0"/>
<rect x="539" y="401" width="3" height="3" fill="#C0C0C0"/>
<rect x="547" y="403" width="3" height="1" fill="#C0C0C0"/>
<rect x="555" y="404" width="3" height="1" fill="#C0C0C0"/>
<rect x="563" y="404" width="3" height="3" fill="#C0C0C0"/>
<rect x="571" y="404" width="3" height="4" fill="#C0C0C0"/>
<rect x="579" y="404" width="3" height="6" fill="#C0C0C0"/>
<rect x="587" y="404" width="3" height="10" fill="#C0C0C0"/>
<rect x="595" y="404" width="3" height="16" fill="#C0C0C0"/>
<rect x="603" y="404" width="3" height="19" fill="#C0C0C0"/>
<rect x="611" y="404" width="3" height="19" fill="#C0C0C0"/>
<rect x="619" y="404" width="3" height="17" fill="#C0C0C0"/>
<rect x="627" y="404" width="3" height="15" fill="#C0C0C0"/>
<rect x="635" y="404" width="3" height="12" fill="#C0C0C0"/>
<rect x="643" y="404" width="3" height="13" fill="#C0C0C0"/>
<rect x="651" y="404" width="3" height="13" fill="#C0C0C0"/>
<rect x="659" y="404" width="3" height="12" fill="#C0C0C0"/>
<rect x="667" y="404" width="3" height="10" fill="#C0C0C0"/>
<rect x="675" y="404" width="3" height="7" fill="#C0C0C0"/>
<rect x="683" y="404" width="3" height="5" fill="#C0C0C0"/>
<rect x="691" y="404" width="3" height="5" fill="#C0C0C0"/>
<rect x="699" y="404" width="3" height="4" fill="#C0C0C0"/>
<rect x="707" y="404" width="3" height="4" fill="#C0C0C0"/>
<rect x="715" y="404" width="3" height="3" fill="#C0C0C0"/>
<rect x="723" y="404" width="3" height="1" fill="#C0C0C0"/>
<rect x="731" y="403" width="3" height="1" fill="#C0C0C0"/>
<rect x="739" y="401" width="3" height="3" fill="#C0C0C0"/>
<rect x="747" y="401" width="3" height="3" fill="#C0C0C0"/>
<rect x="755" y="400" width="3" height="4" fill="#C0C0C0"/>
<rect x="763" y="398" width="3" height="6" fill="#C0C0C0"/>
<rect x="771" y="397" width="3" height="7" fill="#C0C0C0"/>
<rect x="779" y="398" width="3" height="6" fill="#C0C0C0"/>
<rect x="787" y="397" width="3" height="7" fill="#C0C0C0"/>
<rect x="795" y="397" width="3" height="7" fill="#C0C0C0"/>
<rect x="803" y="395" width="3" height="9" fill="#C0C0C0"/>
<rect x="811" y="394" width="3" height="10" fill="#C0C0C0"/>
<rect x="819" y="392" width="3" height="12" fill="#C0C0C0"/>
<rect x="827" y="389" width="3" height="15" fill="#C0C0C0"/>
<rect x="835" y="385" width="3" height="19" fill="#C0C0C0"/>
<rect x="843" y="382" width="3" height="22" fill="#C0C0C0"/>
<rect x="851" y="382" width="3" height="22" fill="#C0C0C0"/>
<rect x="859" y="385" width="3" height="19" fill="#C0C0C0"/>
<rect x="867" y="385" width="3" height="19" fill="#C0C0C0"/>
<rect x="875" y="384" width="3" height="20" fill="#C0C0C0"/>
<rect x="883" y="386" width="3" height="18" fill="#C0C0C0"/>
<rect x="891" y="387" width="3" height="17" fill="#C0C0C0"/>
<rect x="899" y="391" width="3" height="13" fill="#C0C0C0"/>
<rect x="907" y="395" width="3" height="9" fill="#C0C0C0"/>
<rect x="915" y="396" width="3" height="8" fill="#C0C0C0"/>
<path d="M4 383h9v1h-9zM13 384h10v1h-10zM23 385h4v1h-4zM27 386h4v1h-4zM31 387h4v1h-4zM35 388h3v1h-3zM38 389h2v1h-2zM40 390h3v1h-3zM43 391h2v1h-2zM45 392h3v1h-3zM48 393h2v1h-2zM50 394h2v1h-2zM52 395h2v1h-2zM54 396h2v1h-2zM56 397h2v1h-2zM58 398h2v1h-2zM60 399h3v1h-3zM63 400h4v1h-4zM67 401h4v1h-4zM71 402h4v1h-4zM75 403h4v1h-4zM79 404h6v1h-6zM85 405h5v1h-5zM90 406h4v1h-4zM94 407h3v1h-3zM97 408h2v1h-2zM99 409h3v1h-3zM102 410h3v1h-3zM105 411h2v1h-2zM107 412h4v1h-4zM111 413h4v1h-4zM115 414h4v1h-4zM119 415h4v1h-4zM123 416h4v1h-4zM127 417h4v1h-4zM131 418h4v1h-4zM135 419h4v1h-4zM139 420h4v1h-4zM143 421h6v1h-6zM149 422h5v1h-5zM154 423h5v1h-5zM159 424h6v1h-6zM165 425h5v1h-5zM170 426h5v1h-5zM175 427h6v1h-6zM181 428h5v1h-5zM186 429h5v1h-5zM191 430h6v1h-6zM197 431h5v1h-5zM202 432h7v1h-7zM209 433h8v1h-8zM217 434h8v1h-8zM225 435h23v1h-23zM248 434h6v1h-6zM254 433h9v1h-9zM263 432h8v1h-8zM271 431h6v1h-6zM277 430h5v1h-5zM282 429h5v1h-5zM287 428h4v1h-4zM291 427h4v1h-4zM295 426h3v1h-3zM298 425h2v1h-2zM300 424h3v1h-3zM303 423h6v1h-6zM309 422h5v1h-5zM314 421h7v1h-7zM321 420h8v1h-8zM329 419h6v1h-6zM335 418h6v1h-6zM341 417h5v1h-5zM346 416h5v1h-5zM351 415h4v1h-4zM355 414h4v1h-4zM359 413h4v1h-4zM363 412h4v1h-4zM367 411h6v1h-6zM373 410h5v1h-5zM378 409h5v1h-5zM383 408h4v1h-4zM387 407h4v1h-4zM391 406h4v1h-4zM395 405h4v1h-4zM399 404h4v1h-4zM403 403h4v1h-4zM407 402h4v1h-4zM411 401h6v1h-6zM417 400h6v1h-6zM423 399h4v1h-4zM427 398h6v1h-6zM433 397h24v1h-24zM457 398h9v1h-9zM466 399h10v1h-10zM476 400h33v1h-33zM509 401h55v1h-55zM564 402h5v1h-5zM569 403h5v1h-5zM574 404h7v1h-7zM581 405h7v1h-7zM588 406h4v1h-4zM592 407h4v1h-4zM596 408h3v1h-3zM599 409h3v1h-3zM602 410h3v1h-3zM605 411h3v1h-3zM608 412h3v1h-3zM611 413h4v1h-4zM615 414h6v1h-6zM621 415h5v1h-5zM626 416h6v1h-6zM632 417h6v1h-6zM638 418h8v1h-8zM646 419h18v1h-18zM664 418h6v1h-6zM670 417h6v1h-6zM676 416h6v1h-6zM682 415h5v1h-5zM687 414h6v1h-6zM693 413h5v1h-5zM698 412h7v1h-7zM705 411h8v1h-8zM713 410h8v1h-8zM721 409h6v1h-6zM727 408h4v1h-4zM731 407h6v1h-6zM737 406h8v1h-8zM745 405h8v1h-8zM753 404h8v1h-8zM761 403h8v1h-8zM769 402h8v1h-8zM777 401h12v1h-12zM789 400h12v1h-12zM801 399h8v1h-8zM809 398h8v1h-8zM817 397h8v1h-8zM825 396h8v1h-8zM833 395h6v1h-6zM839 394h4v1h-4zM843 393h4v1h-4zM847 392h4v1h-4zM851 391h6v1h-6zM857 390h6v1h-6zM863 389h4v1h-4zM867 388h4v1h-4zM871 387h4v1h-4zM875 386h6v1h-6zM881 385h24v1h-24zM905 386h6v1h-6zM911 387h4v1h-4zM915 388h2v1h-2z" fill="#FF0000"/>
<line x1="4" y1="465.5" x2="1166" y2="465.5" stroke="#C0C0C0" stroke-width="1" stroke-dasharray="3,3"/>
<line x1="4" y1="490.5" x2="1166" y2="490.5" stroke="#C0C0C0" stroke-width="1" stroke-dasharray="3,3"/>
<path d="M4 474h1v1h-1zM5 475h2v1h-2zM7 476h2v1h-2zM9 477h1v1h-1zM10 478h2v1h-2zM12 479h3v1h-3zM15 480h4v1h-4zM19 481h12v1h-12zM31 480h4v1h-4zM35 479h3v1h-3zM38 480h3v1h-3zM41 481h2v1h-2zM43 482h3v1h-3zM46 483h3v1h-3zM49 484h2v1h-2zM51 485h3v1h-3zM54 486h3v1h-3zM57 487h2v1h-2zM59 488h3v1h-3zM62 487h2v1h-2zM64 486h2v1h-2zM66 485h2v1h-2zM68 484h5v1h-5zM73 483h8v1h-8zM81 482h5v1h-5zM86 483h3v1h-3zM89 484h2v1h-2zM91 485h4v1h-4zM95 486h4v1h-4zM99 487h6v1h-6zM105 486h5v1h-5zM110 487h3v1h-3zM113 488h2v1h-2zM115 489h22v1h-22zM137 490h8v1h-8zM145 491h6v1h-6zM151 492h4v1h-4zM155 493h4v1h-4zM159 494h4v1h-4zM163 495h3v1h-3zM166 494h3v1h-3zM169 493h2v1h-2zM171 492h6v1h-6zM177 491h8v1h-8zM185 492h14v1h-14zM199 493h4v1h-4zM203 494h3v1h-3zM206 495h2v1h-2zM208 496h2v1h-2zM210 497h2v1h-2zM212 498h2v1h-2zM214 497h3v1h-3zM217 496h2v1h-2zM219 495h3v1h-3zM222 494h2v1h-2zM224 493h2v1h-2zM226 492h2v1h-2zM228 491h1v1h-1zM229 490h1v1h-1zM230 489h1v1h-1zM231 488h1v1h-1zM232 487h1v1h-1zM233 486h1v1h-1zM234 485h1v1h-1zM235 484h1v1h-1zM236 483h2v1h-2zM238 482h2v1h-2zM240 481h2v1h-2zM242 480h2v1h-2zM244 479h3v1h-3zM247 480h4v1h-4zM251 481h4v1h-4zM255 480h4v1h-4zM259 479h11v1h-11zM270 480h3v1h-3zM273 481h2v1h-2zM275 482h4v1h-4zM279 483h4v1h-4zM283 484h2v1h-2zM285 483h2v1h-2zM287 482h1v1h-1zM288 481h1v1h-1zM289 480h2v1h-2zM291 479h1v1h-1zM292 478h10v1h-10zM302 479h3v1h-3zM305 480h2v1h-2zM307 481h6v1h-6zM313 482h13v1h-13zM326 481h3v1h-3zM329 480h2v1h-2zM331 479h2v1h-2zM333 478h2v1h-2zM335 477h2v1h-2zM337 476h1v1h-1zM338 475h2v1h-2zM340 474h5v1h-5zM345 473h24v1h-24zM369 472h8v1h-8zM377 473h6v1h-6zM383 472h4v1h-4zM387 471h6v1h-6zM393 472h6v1h-6zM399 471h4v1h-4zM403 470h10v1h-10zM413 471h1v1h-1zM414 472h1v1h-1zM415 473h1v1h-1zM416 474h1v1h-1zM417 475h1v1h-1zM418 476h1v1h-1zM419 477h1v1h-1zM420 478h2v1h-2zM422 477h3v1h-3zM425 476h2v1h-2zM427 475h6v1h-6zM433 476h4v1h-4zM437 477h2v1h-2zM439 478h2v1h-2zM441 479h1v1h-1zM442 480h2v1h-2zM444 481h3v1h-3zM447 480h4v1h-4zM451 479h6v1h-6zM457 480h13v1h-13zM470 479h3v1h-3zM473 478h2v1h-2zM475 477h2v1h-2zM477 476h2v1h-2zM479 475h1v1h-1zM480 474h1v1h-1zM481 473h2v1h-2zM483 472h1v1h-1zM484 471h9v1h-9zM493 472h1v1h-1zM494 473h1v1h-1zM495 474h2v1h-2zM497 475h1v1h-1zM498 476h1v1h-1zM499 477h1v1h-1zM500 478h5v1h-5zM505 477h8v1h-8zM513 478h6v1h-6zM519 479h4v1h-4zM523 480h3v1h-3zM526 479h3v1h-3zM529 478h2v1h-2zM531 477h11v1h-11zM542 478h2v1h-2zM544 479h2v1h-2zM546 480h2v1h-2zM548 481h3v1h-3zM551 480h4v1h-4zM555 479h3v1h-3zM558 480h3v1h-3zM561 481h2v1h-2zM563 482h11v1h-11zM574 483h3v1h-3zM577 484h2v1h-2zM579 485h2v1h-2zM581 486h2v1h-2zM583 487h2v1h-2zM585 488h1v1h-1zM586 489h2v1h-2zM588 490h3v1h-3zM591 491h4v1h-4zM595 492h6v1h-6zM601 491h4v1h-4zM605 490h2v1h-2zM607 489h1v1h-1zM608 488h1v1h-1zM609 487h2v1h-2zM611 486h1v1h-1zM612 485h1v1h-1zM613 484h2v1h-2zM615 483h1v1h-1zM616 482h1v1h-1zM617 481h2v1h-2zM619 480h1v1h-1zM620 479h13v1h-13zM633 478h5v1h-5zM638 479h2v1h-2zM640 480h2v1h-2zM642 481h2v1h-2zM644 482h10v1h-10zM654 481h2v1h-2zM656 480h2v1h-2zM658 479h2v1h-2zM660 478h5v1h-5zM665 477h6v1h-6zM671 476h4v1h-4zM675 475h6v1h-6zM681 476h5v1h-5zM686 477h3v1h-3zM689 478h2v1h-2zM691 479h4v1h-4zM695 478h4v1h-4zM699 477h6v1h-6zM705 478h8v1h-8zM713 477h5v1h-5zM718 476h3v1h-3zM721 475h2v1h-2zM723 474h20v1h-20zM743 475h4v1h-4zM747 476h4v1h-4zM751 475h4v1h-4zM755 474h3v1h-3zM758 473h3v1h-3zM761 472h2v1h-2zM763 471h10v1h-10zM773 472h1v1h-1zM774 473h1v1h-1zM775 474h2v1h-2zM777 475h1v1h-1zM778 476h1v1h-1zM779 477h1v1h-1zM780 478h1v1h-1zM781 477h2v1h-2zM783 476h1v1h-1zM784 475h1v1h-1zM785 474h2v1h-2zM787 473h1v1h-1zM788 472h2v1h-2zM790 473h2v1h-2zM792 474h2v1h-2zM794 475h2v1h-2zM796 476h2v1h-2zM798 475h2v1h-2zM800 474h2v1h-2zM802 473h2v1h-2zM804 472h5v1h-5zM809 471h8v1h-8zM817 470h5v1h-5zM822 469h3v1h-3zM825 468h2v1h-2zM827 467h4v1h-4zM831 466h4v1h-4zM835 465h10v1h-10zM845 466h2v1h-2zM847 467h2v1h-2zM849 468h1v1h-1zM850 469h2v1h-2zM852 470h1v1h-1zM853 471h2v1h-2zM855 472h2v1h-2zM857 473h1v1h-1zM858 474h2v1h-2zM860 475h3v1h-3zM863 474h4v1h-4zM867 473h3v1h-3zM870 472h3v1h-3zM873 471h2v1h-2zM875 470h3v1h-3zM878 471h2v1h-2zM880 472h2v1h-2zM882 473h2v1h-2zM884 474h5v1h-5zM889 475h4v1h-4zM893 476h2v1h-2zM895 477h1v1h-1zM896 478h1v1h-1zM897 479h2v1h-2zM899 480h1v1h-1zM900 481h9v1h-9zM909 480h2v1h-2zM911 479h2v1h-2zM913 478h1v1h-1zM914 477h2v1h-2zM916 476h1v1h-1z" fill="#1E90FF"/>
</svg>
<div class="a" style="left:1166px;top:24px;width:1px;height:487px;background:#000"></div>
<div class="tk" style="top:43px"></div><div class="ax" style="top:39.1px">0.74685</div>
<div class="tk" style="top:76px"></div><div class="ax" style="top:72.1px">0.74175</div>
<div class="tk" style="top:109px"></div><div class="ax" style="top:105.1px">0.73665</div>
<div class="tk" style="top:142px"></div><div class="ax" style="top:138.1px">0.73155</div>
<div class="tk" style="top:175px"></div><div class="ax" style="top:171.1px">0.72645</div>
<div class="tk" style="top:208px"></div><div class="ax" style="top:204.1px">0.72135</div>
<div class="tk" style="top:241px"></div><div class="ax" style="top:237.1px">0.71625</div>
<div class="tk" style="top:274px"></div><div class="ax" style="top:270.1px">0.71115</div>
<div class="tk" style="top:307px"></div><div class="ax" style="top:303.1px">0.70605</div>
<div class="tk" style="top:340px"></div><div class="ax" style="top:336.1px">0.70095</div>
<div class="ax" style="left:1170px;top:381.2px">0.00585</div>
<div class="ax" style="left:1170px;top:400.2px">0.00</div>
<div class="ax" style="left:1170px;top:431.2px"><span style="letter-spacing:-0.2px">-0.00918</span></div>
<div class="tk" style="top:380px;width:1px"></div><div class="tk" style="top:404px;width:1px"></div><div class="tk" style="top:441px;width:1px"></div>
<div class="ax" style="left:1170px;top:447.2px">100</div>
<div class="ax" style="left:1170px;top:461.4px">70</div>
<div class="ax" style="left:1170px;top:486.4px">30</div>
<div class="ax" style="left:1170px;top:499.3px">0</div>
<div class="tk" style="top:446px;width:1px"></div><div class="tk" style="top:509px;width:1px"></div>
<div class="lb" style="top:81px;background:#FF0000"><span>0.74002</span></div>
<div class="lb" style="top:157px;background:#000"><span>0.72838</span></div>
<div class="lb" style="top:179px;background:#00FF00"><span>0.72491</span></div>
<div class="lb" style="top:274px;background:#0000FF"><span>0.71013</span></div>
<div class="lb" style="top:367px;background:#0000FF"><span>0.69574</span></div>
<svg class="a" style="left:7px;top:31px" width="7" height="4" shape-rendering="crispEdges"><path d="M3 0h1v1h-1zM2 1h3v1h-3zM1 2h5v1h-5zM0 3h7v1h-7z" fill="#000"/></svg>
<div class="t c" style="left:20px;top:28.9px">AUDUSD-,Daily  0.71895 0.72960 0.71796 0.72838</div>
<div class="t c" style="left:7.2px;top:383.9px">MACD(12,26,9) 0.001968 0.003842</div>
<div class="t c" style="left:7.2px;top:449.9px">RSI(14) 53.0305</div>
<div class="a" style="left:5px;top:44px;width:223px;height:59px;background:#fff"></div>
<div class="a" style="left:7px;top:44px;width:219px;height:57px;background:linear-gradient(#5a5aff,#4040ee 35%,#1a1ac8 60%,#0a0aa8)"></div>
<div class="a" style="left:59px;top:44px;width:115px;height:24px;background:#fff"></div>
<div class="a" style="left:116px;top:68px;width:2px;height:33px;background:#fff"></div>
<div class="a" style="left:11px;top:67px;width:44px;height:1px;background:#9a9af0"></div>
<div class="a" style="left:178px;top:67px;width:44px;height:1px;background:#9a9af0"></div>
<div class="a" style="left:61px;top:44px;width:111px;height:22px;border:1px solid #a8a8a8;box-sizing:border-box;background:#fff"></div>
<div class="a" style="left:62px;top:45px;width:20px;height:20px;background:linear-gradient(#f0f0f0,#e4e4e4 50%,#cfcfcf 51%,#d8d8d8);border-right:1px solid #b8b8b8;box-sizing:border-box"></div>
<div class="a" style="left:151px;top:45px;width:20px;height:20px;background:linear-gradient(#f0f0f0,#e4e4e4 50%,#cfcfcf 51%,#d8d8d8);border-left:1px solid #b8b8b8;box-sizing:border-box"></div>
<div class="a" style="left:69px;top:53px;width:0;height:0;border-left:3px solid transparent;border-right:3px solid transparent;border-top:3px solid #4a5fb0"></div>
<div class="a" style="left:158px;top:53px;width:0;height:0;border-left:3px solid transparent;border-right:3px solid transparent;border-bottom:3px solid #4a5fb0"></div>
<div class="t" style="left:18.7px;top:49.5px;font-size:12px;color:#e8e8ff;transform:scaleX(.88);transform-origin:0 0">SELL</div>
<div class="t" style="left:187.5px;top:49.5px;font-size:12px;color:#e8e8ff;transform:scaleX(.95);transform-origin:0 0">BUY</div>
<div class="t" style="left:123.5px;top:49px;font-size:12px;color:#000">5.00</div>
<div class="t" style="left:27px;top:85.5px;font-size:12px;font-weight:bold;color:#fff">0.72</div>
<div class="t" style="left:137px;top:85.5px;font-size:12px;font-weight:bold;color:#fff">0.72</div>
<div class="t" style="left:53.7px;top:66.5px;font-size:34px;color:#fff;letter-spacing:-1.2px;-webkit-text-stroke:0.6px #1717c2">83</div>
<div class="t" style="left:164.9px;top:66.5px;font-size:34px;color:#fff;letter-spacing:-1.2px;-webkit-text-stroke:0.6px #1717c2">85</div>
<div class="t" style="left:94.5px;top:70.5px;font-size:11px;font-weight:bold;color:#fff">8</div>
<div class="t" style="left:205.5px;top:70.5px;font-size:11px;font-weight:bold;color:#fff">9</div>
<div class="dtk" style="left:4px"></div><div class="dt" style="left:2.8px;transform:scaleX(0.964)">3 Nov 2021</div>
<div class="dtk" style="left:68px"></div><div class="dt" style="left:66.8px;transform:scaleX(0.935)">12 Nov 2021</div>
<div class="dtk" style="left:132px"></div><div class="dt" style="left:130.8px;transform:scaleX(0.943)">22 Nov 2021</div>
<div class="dtk" style="left:196px"></div><div class="dt" style="left:194.8px;transform:scaleX(0.892)">1 Dec 2021</div>
<div class="dtk" style="left:260px"></div><div class="dt" style="left:258.8px;transform:scaleX(0.928)">10 Dec 2021</div>
<div class="dtk" style="left:324px"></div><div class="dt" style="left:322.8px;transform:scaleX(0.928)">20 Dec 2021</div>
<div class="dtk" style="left:388px"></div><div class="dt" style="left:386.8px;transform:scaleX(0.917)">29 Dec 2021</div>
<div class="dtk" style="left:452px"></div><div class="dt" style="left:450.8px;transform:scaleX(0.907)">7 Jan 2022</div>
<div class="dtk" style="left:516px"></div><div class="dt" style="left:514.8px;transform:scaleX(0.905)">17 Jan 2022</div>
<div class="dtk" style="left:580px"></div><div class="dt" style="left:578.8px;transform:scaleX(0.905)">26 Jan 2022</div>
<div class="dtk" style="left:644px"></div><div class="dt" style="left:642.8px;transform:scaleX(0.919)">4 Feb 2022</div>
<div class="dtk" style="left:708px"></div><div class="dt" style="left:706.8px;transform:scaleX(0.917)">14 Feb 2022</div>
<div class="dtk" style="left:772px"></div><div class="dt" style="left:770.8px;transform:scaleX(0.926)">23 Feb 2022</div>
<div class="dtk" style="left:836px"></div><div class="dt" style="left:834.8px;transform:scaleX(0.929)">4 Mar 2022</div>
<div class="dtk" style="left:900px"></div><div class="dt" style="left:898.8px;transform:scaleX(0.926)">14 Mar 2022</div>
<div class="a" style="left:0;top:531px;width:1207px;height:28px;background:#f0f0f0"></div>
<div class="a" style="left:0;top:533px;width:1207px;height:1px;background:#000"></div>
<div class="a" style="left:0;top:553px;width:1207px;height:1px;background:#fff"></div>
<div class="a" style="left:0;top:557px;width:1207px;height:1px;background:#b4b4b4"></div>
<div class="a" style="left:0;top:533px;width:1px;height:19px;background:#696969"></div>
<div class="a" style="left:213px;top:532px;width:108px;height:20px;background:#fff;border:1px solid #000;border-top:none;box-sizing:border-box"></div>
<div class="tab" style="left:16.1px;transform:scaleX(1.008);transform-origin:0 0">USDX,Weekly</div>
<div class="tab" style="left:115.6px;transform:scaleX(0.987);transform-origin:0 0">EURUSD-,Daily</div>
<div class="tab" style="left:223.1px;transform:scaleX(1.002);transform-origin:0 0;color:#000">AUDUSD-,Daily</div>
<div class="tab" style="left:333.1px;transform:scaleX(0.985);transform-origin:0 0">USDCHF-,Daily</div>
<div class="tab" style="left:440.6px;transform:scaleX(0.990);transform-origin:0 0">USDCAD-,Daily</div>
<div class="tab" style="left:548.6px;transform:scaleX(1.021);transform-origin:0 0">USDCNH-,Daily</div>
<div class="tab" style="left:660.6px;transform:scaleX(1.019);transform-origin:0 0">XAUUSD-,M15</div>
<div class="tab" style="left:767.6px;transform:scaleX(1.035);transform-origin:0 0">UKOil-,H1</div>
<div class="tab" style="left:848.6px;transform:scaleX(1.016);transform-origin:0 0">DJ30-,Daily</div>
<div class="tab" style="left:936.1px;transform:scaleX(1.024);transform-origin:0 0">UK100-,H1</div>
<div class="tab" style="left:1021.1px;transform:scaleX(1.015);transform-origin:0 0">USOil-,H1</div>
<div class="tab" style="left:1099.1px;transform:scaleX(1.030);transform-origin:0 0">HK50-,Daily</div>
<div class="sep" style="left:105px"></div>
<div class="sep" style="left:429px"></div>
<div class="sep" style="left:537px"></div>
<div class="sep" style="left:649px"></div>
<div class="sep" style="left:756px"></div>
<div class="sep" style="left:837px"></div>
<div class="sep" style="left:925px"></div>
<div class="sep" style="left:1009px"></div>
<div class="sep" style="left:1089px"></div>
<div class="a" style="left:1182px;top:539px;width:0;height:0;border-top:3px solid transparent;border-bottom:3px solid transparent;border-right:3px solid #8a8a8a"></div>
<div class="a" style="left:1201px;top:539px;width:0;height:0;border-top:3px solid transparent;border-bottom:3px solid transparent;border-left:3px solid #8a8a8a"></div>
</body></html>
